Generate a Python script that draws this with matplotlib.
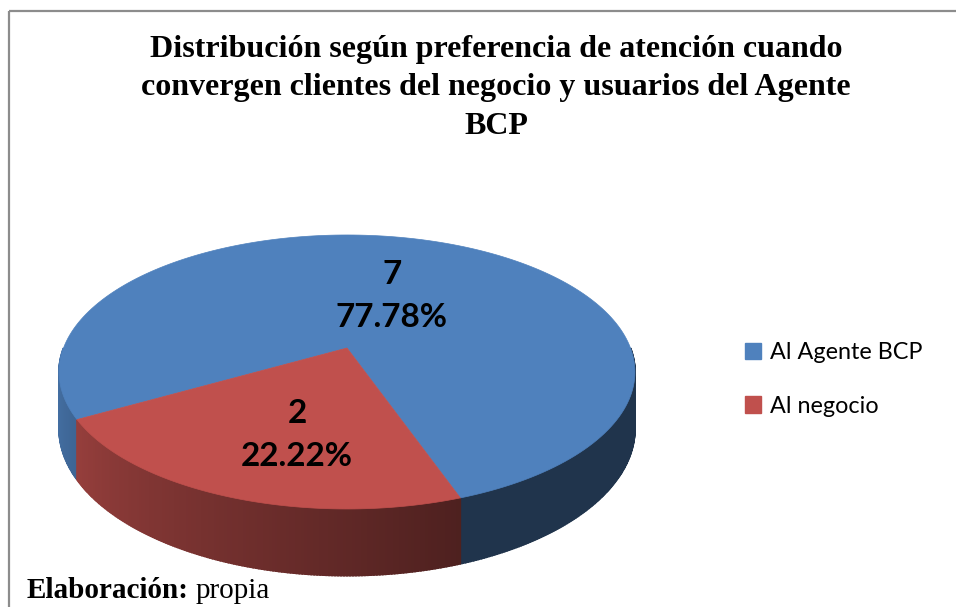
import matplotlib
matplotlib.use("Agg")
import matplotlib.pyplot as plt
from matplotlib.patches import Polygon, Rectangle, Patch
import numpy as np

# data
labels = ["Al Agente BCP", "Al negocio"]
counts = [7, 2]
colors = ["#4F81BD", "#C0504D"]
title = ("Distribución según preferencia de atención cuando\n"
         "convergen clientes del negocio y usuarios del Agente\nBCP")

# pie geometry (pixels), simple perspective of a tilted disc
px, py = 347, 348      # projected centre of the disc
A, B = 283.5, 132.8    # horizontal / vertical scale
k = 0.175              # perspective strength
D = 55                 # thickness
start = 289.5          # start angle (deg, counter clockwise)

fig = plt.figure(figsize=(9.56, 6.07), dpi=100)
ax = fig.add_axes([0, 0, 1, 1])
ax.set_xlim(0, 956)
ax.set_ylim(607, 0)
ax.axis("off")

ax.add_patch(Rectangle((9, 11), 960, 610, fill=False, ec="#8c8c8c", lw=1.6))


def rim(t):
    r = np.radians(t)
    u, v = np.cos(r), np.sin(r)
    s = 1 / (1 + k * v)
    return px + A * u * s, py - B * v * s, D * s


def shade(c, f):
    rgb = np.array(matplotlib.colors.to_rgb(c))
    return tuple(rgb * f)


total = sum(counts)
angles = []
t0 = start
for v in counts:
    t1 = t0 + 360 * v / total
    angles.append((t0, t1))
    t0 = t1

# side walls (front half only)
for (t0, t1), col in zip(angles, colors):
    for t in np.arange(t0, t1, 0.5):
        tt = t % 360
        if tt < 180:
            continue
        t2 = min(t + 0.5, t1)
        x1, y1, d1 = rim(t)
        x2, y2, d2 = rim(t2)
        f = max(0.4, 0.92 - 0.0047 * (tt - 180))
        ax.add_patch(Polygon([(x1, y1), (x2, y2), (x2, y2 + d2), (x1, y1 + d1)],
                             closed=True, fc=shade(col, f), ec=shade(col, f), lw=1.2))

# top faces
for (t0, t1), col in zip(angles, colors):
    ts = np.linspace(t0, t1, 200)
    xs, ys, _ = rim(ts)
    pts = [(px, py)] + list(zip(xs, ys))
    ax.add_patch(Polygon(pts, closed=True, fc=col, ec=col, lw=0.5))

# data labels
label_pos = [(392, 296), (297, 435)]
for (x, y), v in zip(label_pos, counts):
    ax.text(x, y, f"{v}\n{100 * v / total:.2f}%", ha="center", va="center",
            fontsize=24, fontweight="bold", family="Lato", linespacing=1.6)

ax.text(496, 88, title, ha="center", va="center", fontsize=23, fontweight="bold",
        family="Liberation Serif", linespacing=1.42)

handles = [Patch(fc=c, ec=c) for c in colors]
ax.legend(handles, labels, loc="center left", bbox_to_anchor=(0.757, 0.375),
          frameon=False, prop={"family": "Lato", "size": 16.8},
          handlelength=0.7, handleheight=0.7, handletextpad=0.4, labelspacing=1.4)

t1 = ax.text(27, 598, "Elaboración:", fontsize=21, fontweight="bold",
             family="Liberation Serif", va="baseline")
ax.annotate("propia", xy=(1, 0), xycoords=t1, xytext=(5, 0), textcoords="offset points",
            fontsize=21, family="Liberation Serif", va="bottom")

fig.savefig("out.png", dpi=100)
